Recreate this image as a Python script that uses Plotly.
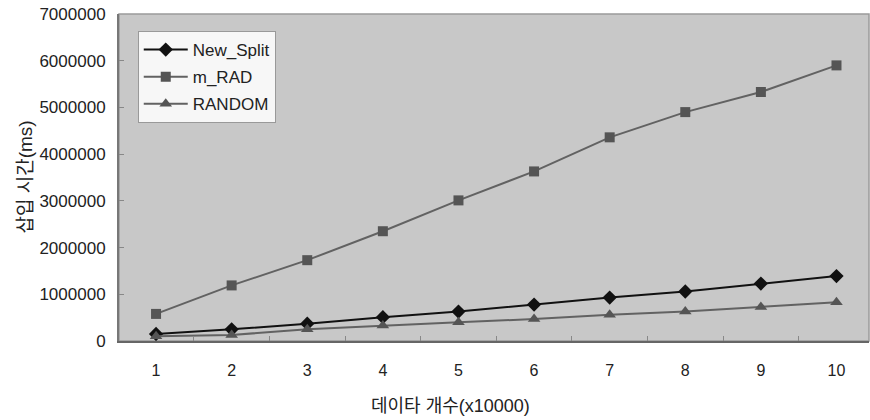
import plotly.graph_objects as go

categories = ["1", "2", "3", "4", "5", "6", "7", "8", "9", "10"]
new_split = [150000, 250000, 370000, 510000, 630000, 780000, 930000, 1060000, 1230000, 1390000]
m_rad = [580000, 1190000, 1730000, 2350000, 3010000, 3630000, 4360000, 4900000, 5330000, 5900000]
random_ = [100000, 130000, 250000, 330000, 400000, 470000, 560000, 630000, 730000, 830000]
y_ticks = [0, 1000000, 2000000, 3000000, 4000000, 5000000, 6000000, 7000000]

FONT = "Liberation Sans, Arial, Noto Sans CJK KR, sans-serif"
TXT = "#222222"

fig = go.Figure()
fig.add_trace(go.Scatter(
    x=categories, y=new_split, name="New_Split", mode="lines+markers",
    line=dict(color="#111111", width=2),
    marker=dict(symbol="diamond", size=11, color="#111111"),
    legendgroup="a"))
fig.add_trace(go.Scatter(
    x=categories, y=m_rad, name="m_RAD", mode="lines+markers",
    line=dict(color="#626262", width=2),
    marker=dict(symbol="square", size=10, color="#555555"),
    legendgroup="b"))
fig.add_trace(go.Scatter(
    x=categories, y=random_, name="RANDOM", mode="lines+markers",
    line=dict(color="#626262", width=2),
    marker=dict(symbol="triangle-up", size=11, color="#555555"),
    legendgroup="c"))

fig.update_layout(
    width=870, height=420,
    margin=dict(l=119, r=1, t=14, b=79),
    paper_bgcolor="white",
    plot_bgcolor="#c8c8c8",
    font=dict(family=FONT, size=16, color=TXT),
    showlegend=True,
    legend=dict(
        x=0.025, y=0.948, xanchor="left", yanchor="top",
        bgcolor="#f7f7f7", bordercolor="#999999", borderwidth=1,
        font=dict(size=17, color=TXT),
        traceorder="grouped", tracegroupgap=2,
        itemwidth=44,
    ),
    xaxis=dict(
        type="category",
        range=[-0.49, 9.43],
        showgrid=False,
        showline=True, linecolor="#666666", linewidth=2, mirror=False,
        ticks="inside", ticklen=5, tickcolor="#888888",
        tickson="boundaries",
        ticklabelstandoff=14,
        tickfont=dict(size=16, color=TXT),
        zeroline=False,
    ),
    yaxis=dict(
        range=[0, 7000000],
        tickvals=y_ticks,
        tickformat="d",
        showgrid=False,
        showline=True, linecolor="#777777", linewidth=2,
        ticks="inside", ticklen=5, tickcolor="#888888",
        ticklabelstandoff=8,
        tickfont=dict(size=17, color=TXT),
        zeroline=False,
    ),
    annotations=[
        dict(text="데이타 개수(x10000)", xref="paper", yref="paper",
             x=(450 - 119) / 750, y=(341 - 406) / 327,
             xanchor="center", yanchor="middle", showarrow=False,
             font=dict(size=18, color=TXT)),
        dict(text="삽입 시간(ms)", xref="paper", yref="paper",
             x=(25 - 119) / 750, y=0.5, textangle=-90,
             xanchor="center", yanchor="middle", showarrow=False,
             font=dict(size=19, color=TXT)),
    ],
)

fig.add_shape(type="rect", xref="paper", yref="paper", x0=0, y0=0, x1=1, y1=1,
              line=dict(color="#9a9a9a", width=1.5), layer="below")

fig.write_html("out.html")
